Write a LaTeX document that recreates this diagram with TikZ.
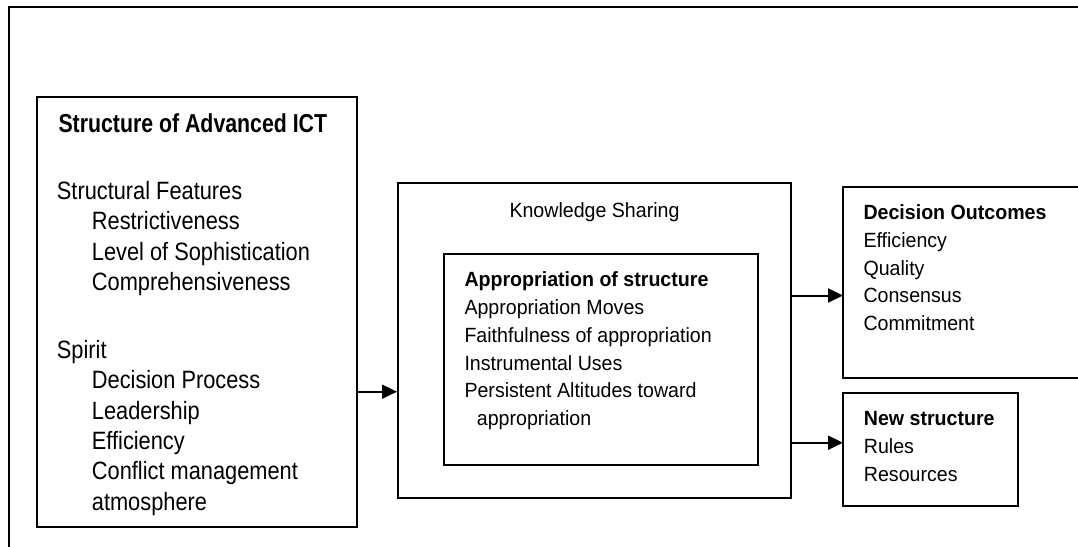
\documentclass[tikz,border=0pt]{standalone}
\usepackage{fontspec}
\usepackage{graphicx}
\setmainfont{Liberation Sans}
\usetikzlibrary{arrows.meta}
\newcommand{\tallbox}[1]{\scalebox{1}[1.15]{#1}}
\newcommand{\midbox}[1]{\scalebox{1}[1.05]{#1}}
\begin{document}
\begin{tikzpicture}[x=1pt,y=-1pt,
  box/.style={draw=black,line width=1.3pt,inner sep=0pt,outer sep=0pt},
  big/.style={anchor=base west,inner sep=0pt,font=\fontsize{21.8}{26}\selectfont},
  small/.style={anchor=base west,inner sep=0pt,font=\fontsize{19.6}{24}\selectfont},
  conn/.style={line width=2pt,-{Triangle[length=15pt,width=14pt]}}]
\useasboundingbox (0,0) rectangle (1078,546);
\clip (0,0) rectangle (1078,546);
% outer frame (only top and left edges visible)
\coordinate (fa) at (9,7);
\coordinate (fb) at (1110,580);
\draw[line width=2.2pt] (fa) rectangle (fb);
% boxes
\node[box,minimum width=320pt,minimum height=430pt] (ict) at (197,312) {};
\node[box,minimum width=393pt,minimum height=315pt] (ks) at (594.5,340.5) {};
\node[box,minimum width=314pt,minimum height=211pt] (app) at (601,359.5) {};
\node[box,minimum width=257pt,minimum height=191pt] (do) at (971.5,282.5) {};
\node[box,minimum width=175pt,minimum height=113pt] (ns) at (930.5,449.5) {};
% connectors
\coordinate (y1) at (0,391.7);
\coordinate (y2) at (0,295.5);
\coordinate (y3) at (0,442.7);
\draw[conn] (ict.east |- y1) -- ([xshift=-1pt]ks.west |- y1);
\draw[conn] (ks.east |- y2) -- (do.west |- y2);
\draw[conn] (ks.east |- y3) -- (ns.west |- y3);
% left box text
\node[big,font=\fontsize{21.3}{26}\selectfont] (t1) at (58.3,132.3) {\scalebox{1}[1.22]{\bfseries Structure of Advanced ICT}};
\node[big] (t2) at (56.7,199.5) {\tallbox{Structural Features}};
\node[big] (t3) at (91.7,229.8) {\tallbox{Restrictiveness}};
\node[big] (t4) at (91.7,260.1) {\tallbox{Level of Sophistication}};
\node[big] (t5) at (91.7,290.4) {\tallbox{Comprehensiveness}};
\node[big] (t6) at (56.7,358.6) {\tallbox{Spirit}};
\node[big] (t7) at (91.7,388.9) {\tallbox{Decision Process}};
\node[big] (t8) at (91.7,419.2) {\tallbox{Leadership}};
\node[big] (t9) at (91.7,449.5) {\tallbox{Efficiency}};
\node[big] (t10) at (91.7,479.8) {\tallbox{Conflict management}};
\node[big] (t11) at (91.7,510.1) {\tallbox{atmosphere}};
% knowledge sharing
\node[small,anchor=base] (k1) at (594.5,217.3) {\midbox{Knowledge Sharing}};
\node[small] (a1) at (464.3,286.7) {\midbox{\bfseries Appropriation of structure}};
\node[small] (a2) at (464.3,314.3) {\midbox{Appropriation Moves}};
\node[small] (a3) at (464.3,342.3) {\midbox{Faithfulness of appropriation}};
\node[small] (a4) at (464.3,370) {\midbox{Instrumental Uses}};
\node[small] (a5) at (464.3,397.7) {\midbox{Persistent Altitudes toward}};
\node[small] (a6) at (476.7,425.3) {\midbox{appropriation}};
% decision outcomes
\node[small] (d1) at (863.3,219.7) {\midbox{\bfseries Decision Outcomes}};
\node[small] (d2) at (863.3,247.3) {\midbox{Efficiency}};
\node[small] (d3) at (863.3,275) {\midbox{Quality}};
\node[small] (d4) at (863.3,302.7) {\midbox{Consensus}};
\node[small] (d5) at (863.3,330.3) {\midbox{Commitment}};
% new structure
\node[small] (n1) at (863.7,425.7) {\midbox{\bfseries New structure}};
\node[small] (n2) at (863.7,453.3) {\midbox{Rules}};
\node[small] (n3) at (863.7,481) {\midbox{Resources}};
\end{tikzpicture}
\end{document}
